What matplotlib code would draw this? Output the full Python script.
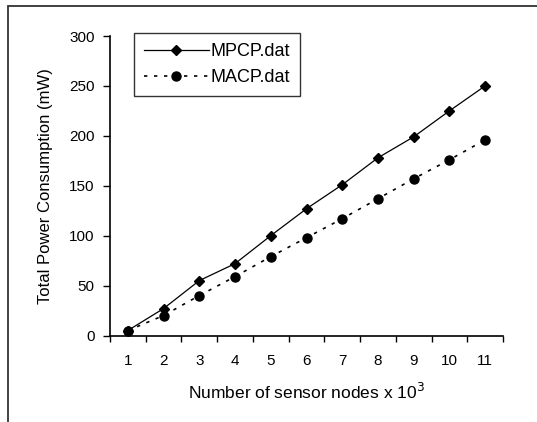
import numpy as np
import matplotlib.pyplot as plt
from matplotlib.patches import Rectangle

nodes = [1, 2, 3, 4, 5, 6, 7, 8, 9, 10, 11]
mpcp = [5, 27, 55, 72, 100, 127, 151, 178, 199, 225, 250]
macp = [5, 20, 40, 59, 79, 98, 117, 137, 157, 176, 196]

plt.rcParams['font.family'] = ['Liberation Sans', 'DejaVu Sans']

fig = plt.figure(figsize=(5.37, 4.22), dpi=100)
fig.patch.set_facecolor('white')

# outer frame (cut off on the right and bottom like the scan)
fig.patches.append(Rectangle((8/537, -0.1), 1.2, 1 - 6/422 + 0.1,
                             transform=fig.transFigure, fill=False,
                             edgecolor='#333333', linewidth=1.3))

ax = fig.add_axes([110/537, 1 - 335.5/422, 393/537, 299.5/422])
ax.plot(nodes, mpcp, color='black', linewidth=0.9, marker='D',
        markersize=5.5, label='MPCP.dat')
ax.plot(nodes, macp, color='black', linewidth=1.2, linestyle=(0, (2, 4)),
        marker='o', markersize=6.5, label='MACP.dat')

ax.set_xlim(0.5, 11.5)
ax.set_ylim(0, 300)
ax.set_yticks(np.arange(0, 301, 50))
ax.set_xticks(np.arange(0.5, 12, 1))
ax.set_xticklabels([])
ax.set_xticks(nodes, minor=True)
ax.set_xticklabels([str(n) for n in nodes], minor=True)
ax.tick_params(axis='x', which='minor', length=0, pad=13, labelsize=11)
ax.tick_params(axis='x', which='major', length=4, width=1)
ax.tick_params(axis='y', length=5, width=1, labelsize=11, pad=6)

for s in ['top', 'right']:
    ax.spines[s].set_visible(False)
for s in ['left', 'bottom']:
    ax.spines[s].set_linewidth(1.2)

ax.set_xlabel('Number of sensor nodes x 10$^3$', fontsize=12.5, labelpad=10)
ax.set_ylabel('Total Power Consumption (mW)', fontsize=12, labelpad=12)

leg = ax.legend(loc='upper left', bbox_to_anchor=(0.061, 1.01), fontsize=13,
                handlelength=3.6, frameon=True, fancybox=False,
                borderpad=0.55, handletextpad=0.1, labelspacing=0.5,
                borderaxespad=0)
leg.get_frame().set_edgecolor('black')
leg.get_frame().set_linewidth(1.0)

plt.savefig('out.png', dpi=100)
